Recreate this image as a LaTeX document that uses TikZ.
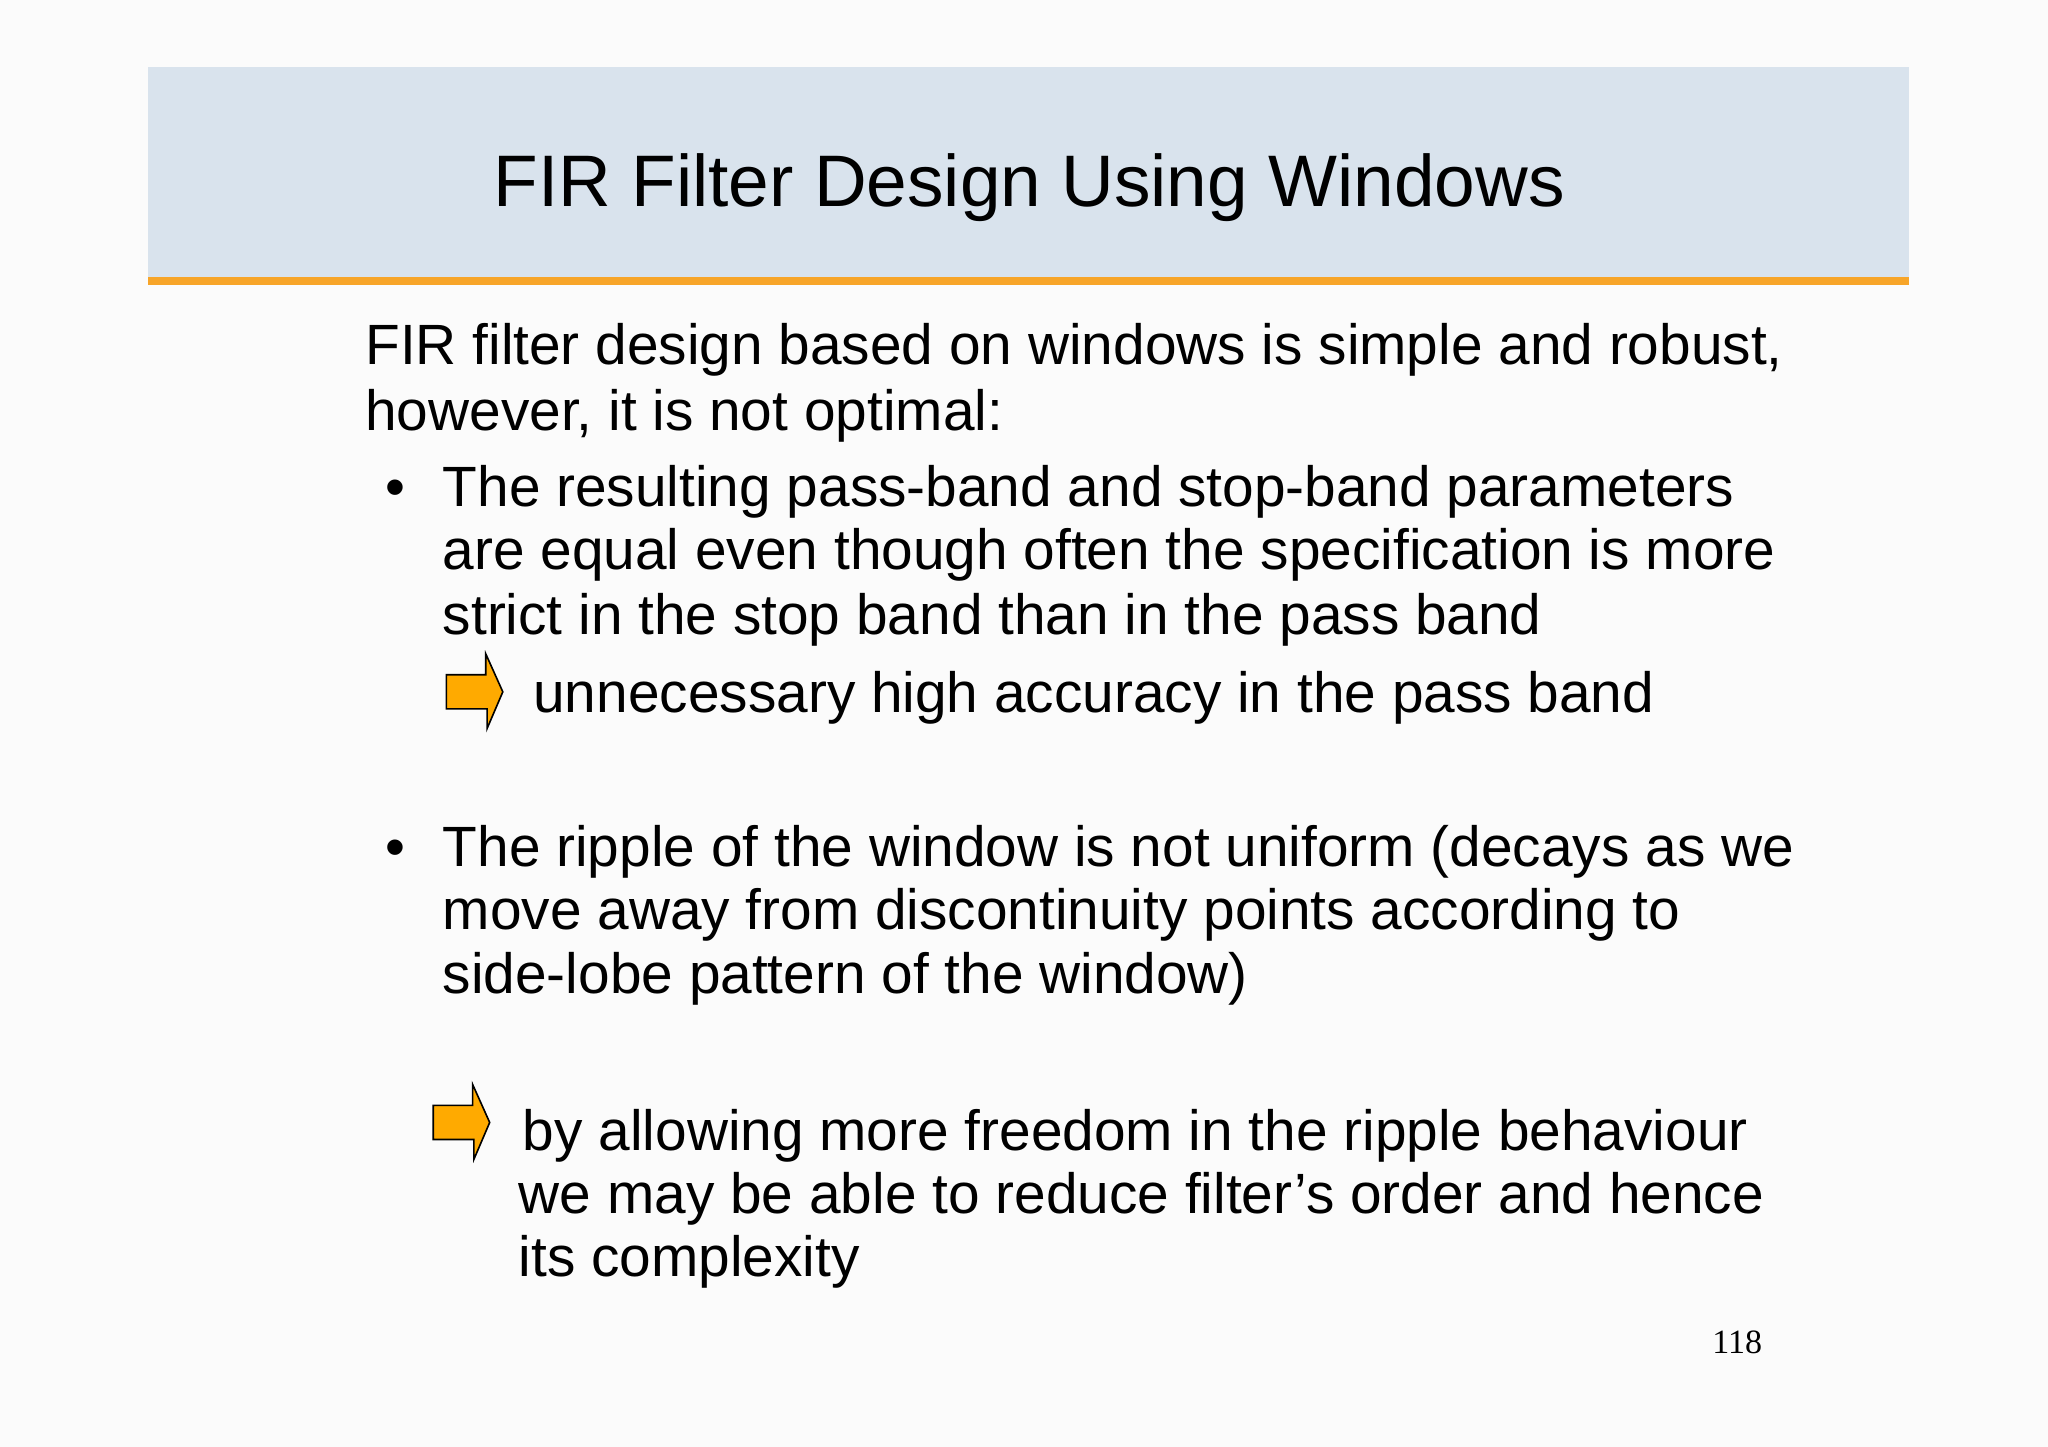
\documentclass[tikz,border=0pt]{standalone}
\usepackage{fontspec}
\setmainfont{Liberation Sans}
\newfontfamily\serifpn{Liberation Serif}
\definecolor{hdr}{RGB}{217,227,237}
\definecolor{obar}{RGB}{247,165,41}
\definecolor{afill}{RGB}{255,170,0}
\begin{document}
\begin{tikzpicture}[x=0.6564pt,y=-0.6564pt,
  body/.style={anchor=base west,inner sep=0pt,font=\fontsize{28.4}{32}\selectfont},
  arr/.style={fill=afill,draw=black,line width=0.8pt,line join=miter}]
\useasboundingbox (0,0) rectangle (1560,1102);
\fill[white!97!gray] (0,0) rectangle (1560,1102);
\fill[hdr] (113,51) rectangle (1454,212);
\fill[obar] (113,211) rectangle (1454,217);
\node[anchor=base,inner sep=0pt,font=\fontsize{36.5}{40}\selectfont] (title) at (784,157) {FIR Filter Design Using Windows};
\node[body] (l1) at (278,278) {FIR filter design based on windows is simple and robust,};
\node[body] (l2) at (278,328) {however, it is not optimal:};
\node[body] (b1) at (293,386) {\textbullet};
\node[body] (t1) at (337,386) {The resulting pass-band and stop-band parameters};
\node[body] (t2) at (337,434) {are equal even though often the specification is more};
\node[body] (t3) at (337,483) {strict in the stop band than in the pass band};
\draw[arr] (340,514) -- (370,514) -- (370,498) -- (383,527) -- (371,555) -- (371,540) -- (340,540) -- cycle;
\node[body] (a1) at (406,543) {unnecessary high accuracy in the pass band};
\node[body] (b2) at (293,660) {\textbullet};
\node[body] (u1) at (337,660) {The ripple of the window is not uniform (decays as we};
\node[body] (u2) at (337,708) {move away from discontinuity points according to};
\node[body] (u3) at (337,757) {side-lobe pattern of the window)};
\draw[arr] (330,842) -- (360,842) -- (360,826) -- (373,855) -- (361,883) -- (361,868) -- (330,868) -- cycle;
\node[body] (v1) at (398,876) {by allowing more freedom in the ripple behaviour};
\node[body] (v2) at (395,924) {we may be able to reduce filter’s order and hence};
\node[body] (v3) at (395,972) {its complexity};
\node[anchor=base west,inner sep=0pt,font=\serifpn\fontsize{17}{20}\selectfont] (pn) at (1304,1031) {118};
\end{tikzpicture}
\end{document}
